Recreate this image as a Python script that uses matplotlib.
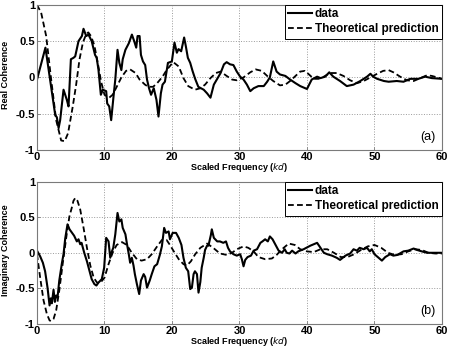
import numpy as np
import matplotlib
matplotlib.use("Agg")
import matplotlib.pyplot as plt

plt.rcParams['font.family'] = ['Liberation Sans', 'DejaVu Sans']

# real coherence, measured
real_data_x = [0, 1.25, 2.7, 2.94, 3.2, 3.43, 3.93, 4.42, 4.67, 5.02, 5.41, 5.66, 6.15, 6.65, 6.89,
               7.29, 7.63, 8.1, 8.6, 8.84, 9.1, 9.46, 9.75, 10.25, 10.4, 10.7, 10.99, 11.34, 11.6,
               11.93, 12.2, 12.5, 12.7, 13.1, 13.6, 14.06, 14.4, 14.7, 14.9, 15.2, 15.4, 15.7, 16.03,
               16.3, 16.6, 16.9, 17.3, 17.7, 18.0, 18.35, 18.6, 18.95, 19.4, 19.98, 20.37, 20.72,
               20.97, 21.36, 21.8, 22.05, 22.35, 22.7, 23.04, 23.43, 23.9, 24.7, 25.2, 25.7, 26.2,
               26.7, 27.2, 27.7, 28.1, 28.6, 29.1, 29.6, 30.1, 30.6, 31.1, 31.6, 32.1, 32.8, 33.6,
               34.1, 34.5, 35.0, 35.5, 36.0, 36.8, 37.5, 38.3, 39.0, 40.0, 40.7, 41.5, 42.0, 42.7,
               43.3, 43.9, 44.9, 45.9, 46.9, 47.9, 48.9, 49.4, 49.8, 50.4, 51.4, 52.1, 53.3, 54.3,
               55.3, 56.5, 57.5, 58.5, 60.0]
real_data_y = [-0.03, 0.41, -0.52, -0.55, -0.70, -0.59, -0.17, -0.31, -0.40, 0.25, 0.27, 0.29, 0.50,
               0.57, 0.67, 0.57, 0.59, 0.50, 0.31, 0.27, 0.11, -0.24, -0.17, -0.19, -0.36, -0.40,
               -0.59, -0.26, -0.03, 0.38, 0.20, 0.10, 0.25, 0.38, 0.47, 0.59, 0.50, 0.41, 0.57, 0.57,
               0.31, 0.22, 0.17, -0.03, -0.15, -0.24, -0.15, -0.31, -0.54, -0.22, -0.10, -0.06, 0.20,
               0.22, 0.48, 0.34, 0.39, 0.36, 0.55, 0.43, 0.27, 0.20, 0.09, -0.02, -0.13, -0.17, -0.22,
               -0.28, -0.10, -0.02, 0.06, 0.18, 0.21, 0.18, 0.17, 0.08, 0.01, -0.03, -0.10, -0.19,
               -0.15, -0.12, -0.12, -0.06, 0.00, 0.22, 0.08, 0.04, 0.02, -0.03, -0.08, -0.12, -0.16,
               -0.03, 0.01, -0.01, 0.01, 0.07, 0.01, -0.05, -0.12, -0.10, -0.05, 0.01, 0.05, 0.01,
               -0.02, -0.05, -0.06, -0.05, -0.06, -0.02, -0.02, 0.01, -0.01, -0.02]

# real coherence, theory
real_theo_x = [0, 0.62, 1.36, 2.1, 2.84, 3.58, 4.1, 4.6, 5.3, 5.8, 6.3, 6.8, 7.3, 7.6, 8.0, 8.5, 9.0,
               9.5, 10.0, 10.7, 11.2, 11.7, 12.5, 13.2, 13.8, 14.6, 15.2, 16.0, 16.5, 17.2, 17.8,
               18.6, 19.2, 19.9, 20.2, 21.0, 21.7, 22.4, 23.4, 24.2, 24.9, 25.7, 26.5, 27.2, 28.1,
               28.9, 29.6, 30.6, 31.6, 32.4, 33.3, 34.1, 35.0, 36.0, 36.8, 37.5, 38.3, 39.0, 39.7,
               40.3, 41.0, 41.7, 42.5, 43.4, 44.4, 45.4, 46.4, 47.4, 48.4, 49.4, 50.4, 51.3, 52.1,
               52.8, 53.8, 54.8, 55.8, 56.8, 57.8, 58.5, 59.3, 60.0]
real_theo_y = [1.0, 0.89, 0.57, -0.03, -0.59, -0.87, -0.88, -0.77, -0.40, -0.10, 0.25, 0.48, 0.60,
               0.62, 0.57, 0.44, 0.20, -0.06, -0.24, -0.28, -0.24, -0.15, 0.0, 0.09, 0.11, 0.06,
               -0.03, -0.10, -0.13, -0.13, -0.08, 0.01, 0.10, 0.18, 0.21, 0.15, -0.01, -0.12, -0.17,
               -0.15, -0.10, -0.01, 0.06, 0.08, 0.02, -0.03, -0.04, 0.0, 0.07, 0.11, 0.09, 0.02,
               -0.05, -0.11, -0.10, -0.05, 0.02, 0.08, 0.09, 0.04, -0.02, -0.02, 0.01, 0.06, 0.06,
               0.02, -0.04, -0.08, -0.05, 0.0, 0.05, 0.09, 0.10, 0.07, 0.01, -0.04, -0.05, -0.01,
               0.03, 0.02, 0.0, -0.02]

# imaginary coherence, measured
imag_data_x = [0, 0.47, 0.87, 1.2, 1.56, 1.86, 2.05, 2.2, 2.45, 2.65, 2.84, 3.04, 3.3, 3.7, 3.93,
               4.18, 4.52, 4.82, 5.2, 5.5, 5.9, 6.15, 6.4, 6.6, 7.0, 7.4, 7.8, 8.1, 8.5, 8.8, 9.1,
               9.6, 9.95, 10.25, 10.6, 10.85, 11.1, 11.3, 11.6, 11.93, 12.2, 12.5, 12.7, 13.1, 13.3,
               13.6, 13.8, 14.05, 14.3, 14.5, 14.8, 15.14, 15.4, 15.8, 16.03, 16.3, 16.7, 17.0,
               17.4, 17.8, 18.2, 18.5, 18.84, 19.1, 19.5, 19.7, 20.1, 20.6, 21.0, 21.4, 21.7, 22.05,
               22.4, 22.7, 22.95, 23.2, 23.4, 23.7, 23.93, 24.2, 24.4, 24.7, 24.9, 25.2, 25.4,
               25.76, 25.9, 26.2, 26.7, 27.1, 27.6, 28.0, 28.3, 28.6, 29.1, 29.6, 30.1, 30.35,
               30.6, 30.85, 31.2, 31.7, 32.1, 32.6, 33.1, 33.4, 33.8, 34.2, 34.5, 34.9, 35.3, 35.8,
               36.3, 36.7, 37.0, 37.4, 37.8, 38.3, 38.7, 39.5, 40.5, 41.5, 42.0, 42.5, 43.0, 43.7,
               44.4, 44.9, 45.7, 46.4, 46.9, 47.4, 47.8, 48.4, 48.9, 49.3, 49.6, 50.0, 50.6, 51.1,
               51.6, 52.3, 52.8, 53.4, 54.3, 55.0, 55.8, 56.3, 57.0, 57.8, 58.8, 60.0]
imag_data_y = [0.03, -0.05, -0.14, -0.26, -0.49, -0.74, -0.64, -0.71, -0.52, -0.69, -0.60, -0.63,
               -0.39, -0.14, -0.02, 0.20, 0.40, 0.33, 0.28, 0.24, 0.16, 0.19, 0.12, 0.14, 0.0,
               -0.12, -0.26, -0.37, -0.44, -0.46, -0.42, -0.37, -0.21, 0.21, 0.16, -0.07, 0.02,
               0.07, 0.26, 0.56, 0.44, 0.47, 0.35, 0.26, 0.14, -0.02, -0.14, -0.07, -0.18, -0.30,
               -0.44, -0.58, -0.39, -0.30, -0.34, -0.49, -0.39, -0.30, -0.19, -0.16, -0.03, 0.09,
               0.35, 0.28, 0.30, 0.19, 0.28, 0.28, 0.21, 0.11, -0.07, -0.21, -0.26, -0.51, -0.49,
               -0.30, -0.26, -0.30, -0.56, -0.41, -0.21, -0.07, 0.04, 0.10, 0.10, 0.25, 0.33, 0.21,
               0.16, 0.16, 0.14, 0.16, 0.07, 0.02, -0.02, -0.04, -0.02, -0.09, -0.19, -0.10, -0.06,
               -0.04, 0.03, 0.05, 0.14, 0.16, 0.19, 0.16, 0.23, 0.19, 0.12, 0.03, 0.00, 0.05, 0.00,
               -0.01, 0.03, -0.01, 0.02, 0.05, 0.10, 0.14, 0.07, 0.00, -0.02, -0.04, -0.07, -0.10,
               -0.04, -0.01, 0.05, 0.03, 0.07, 0.05, 0.07, 0.02, 0.05, -0.02, -0.07, -0.11, -0.06,
               -0.02, -0.04, -0.03, 0.02, 0.03, 0.06, 0.04, 0.02, 0.00, 0.00, 0.00]

# imaginary coherence, theory
imag_theo_x = [0, 0.47, 0.97, 1.46, 1.86, 2.05, 2.45, 2.84, 3.3, 3.8, 4.4, 4.8, 5.2, 5.4, 5.66, 6.0,
               6.4, 6.9, 7.4, 7.9, 8.4, 8.9, 9.4, 10.0, 10.6, 11.2, 11.8, 12.6, 13.3, 14.05, 14.8,
               15.5, 16.3, 17.0, 17.8, 18.5, 19.2, 19.7, 20.2, 21.0, 21.7, 22.2, 22.8, 23.44, 24.2,
               25.2, 26.1, 27.1, 28.1, 28.9, 29.6, 30.6, 31.3, 32.1, 32.8, 33.8, 34.8, 35.5, 36.3,
               37.3, 38.2, 39.0, 40.0, 41.0, 42.0, 43.0, 44.0, 45.0, 46.0, 47.0, 48.0, 49.0, 50.0,
               51.0, 52.0, 53.0, 54.0, 55.0, 56.0, 57.0, 58.0, 59.0, 60.0]
imag_theo_y = [-0.02, -0.35, -0.67, -0.86, -0.95, -0.96, -0.93, -0.81, -0.53, -0.16, 0.26, 0.51,
               0.65, 0.73, 0.77, 0.73, 0.61, 0.35, 0.07, -0.18, -0.35, -0.42, -0.42, -0.35, -0.16,
               0.0, 0.11, 0.15, 0.11, 0.0, -0.09, -0.11, -0.09, -0.02, 0.09, 0.18, 0.18, 0.11, 0.03,
               -0.09, -0.16, -0.18, -0.12, -0.02, 0.07, 0.13, 0.07, -0.01, -0.03, 0.0, 0.05, 0.09,
               0.07, 0.02, -0.06, -0.09, -0.08, -0.03, 0.05, 0.13, 0.11, 0.05, 0.02, 0.01, 0.05,
               0.05, 0.0, -0.06, -0.06, -0.02, 0.04, 0.09, 0.11, 0.07, 0.0, -0.03, -0.02, 0.02,
               0.05, 0.04, 0.0, -0.01, -0.01]

panels = [
    (real_data_x, real_data_y, real_theo_x, real_theo_y, "Real Coherence", "(a)"),
    (imag_data_x, imag_data_y, imag_theo_x, imag_theo_y, "Imaginary Coherence", "(b)"),
]
boxes = [[0.0815, 0.568, 0.892, 0.418], [0.0815, 0.0665, 0.892, 0.41]]

fig = plt.figure(figsize=(4.54, 3.47), dpi=100)

for (dx, dy, tx, ty, ylab, tag), box in zip(panels, boxes):
    ax = fig.add_axes(box)
    ax.plot(dx, dy, color="black", lw=1.5, label="data")
    ax.plot(tx, ty, color="black", lw=1.3, linestyle=(0, (3.2, 1.8)), label="Theoretical prediction")
    ax.set_xlim(0, 60)
    ax.set_ylim(-1, 1)
    ax.set_xticks(np.arange(0, 61, 10))
    ax.set_yticks([-1, -0.5, 0, 0.5, 1])
    ax.set_yticklabels(["-1", "-0.5", "0", "0.5", "1"])
    ax.grid(True, linestyle=":", color="#9a9a9a", lw=0.7)
    for s in ax.spines.values():
        s.set_color("#7a7a7a")
        s.set_linewidth(0.8)
    ax.tick_params(direction="in", length=2, width=0.6, color="#7a7a7a", pad=1.5,
                   labelsize=8)
    for lab in ax.get_xticklabels() + ax.get_yticklabels():
        lab.set_fontweight("bold")
    ax.set_xlabel("Scaled Frequency ($\\bf{\\it{kd}}$)", fontsize=6.5, fontweight="bold")
    ax.xaxis.set_label_coords(0.5, -0.075)
    ax.set_ylabel(ylab, fontsize=6.5, fontweight="bold")
    ax.yaxis.set_label_coords(-0.066, 0.52)
    ax.text(0.965, 0.09, tag, transform=ax.transAxes, fontsize=9, ha="center", va="center")
    leg = ax.legend(loc="upper right", borderaxespad=0, fancybox=False, handlelength=2.0,
                    prop={"weight": "bold", "size": 8.5}, borderpad=0.3, labelspacing=0.25,
                    handletextpad=0.25, framealpha=1)
    leg.get_frame().set_edgecolor("black")
    leg.get_frame().set_linewidth(0.7)

plt.savefig("out.png", dpi=100)
plt.close()
